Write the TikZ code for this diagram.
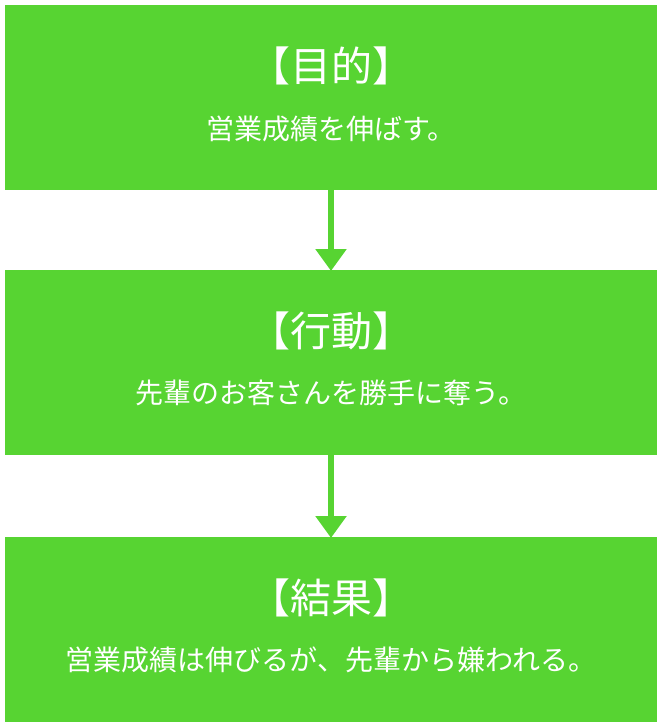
\documentclass[tikz,border=0pt]{standalone}
\usepackage{fontspec}
\setmainfont{Noto Sans CJK JP}
\usetikzlibrary{arrows.meta}
\definecolor{leafgreen}{RGB}{87,212,50}
\tikzset{
  stepbox/.style={fill=leafgreen, draw=none, minimum width=652pt, minimum height=185pt, anchor=north, inner sep=0pt},
  flowarrow/.style={draw=leafgreen, line width=6pt, -{Triangle[length=22pt,width=30pt]}, shorten >=-1pt},
  titletext/.style={text=white, font=\fontsize{41pt}{46pt}\selectfont},
  bodytext/.style={text=white, font=\fontsize{28pt}{32pt}\selectfont}
}
\begin{document}
\begin{tikzpicture}[x=1pt,y=-1pt]
\useasboundingbox (0,0) rectangle (662,728);

% boxes
\node[stepbox] (goal) at (331,5) {};
\node[stepbox] (act) at (331,270) {};
\node[stepbox] (result) at (331,537) {};

% texts
\node[titletext] (goalT) at (331,66) {【目的】};
\node[bodytext] (goalB) at (331,129) {営業成績を伸ばす。};
\node[titletext] (actT) at (331,331) {【行動】};
\node[bodytext] (actB) at (331,393) {先輩のお客さんを勝手に奪う。};
\node[titletext] (resultT) at (331,598) {【結果】};
\node[bodytext] (resultB) at (331,660) {営業成績は伸びるが、先輩から嫌われる。};

% arrows
\draw[flowarrow] (goal.south) -- (act.north);
\draw[flowarrow] (act.south) -- (result.north);

\end{tikzpicture}
\end{document}
